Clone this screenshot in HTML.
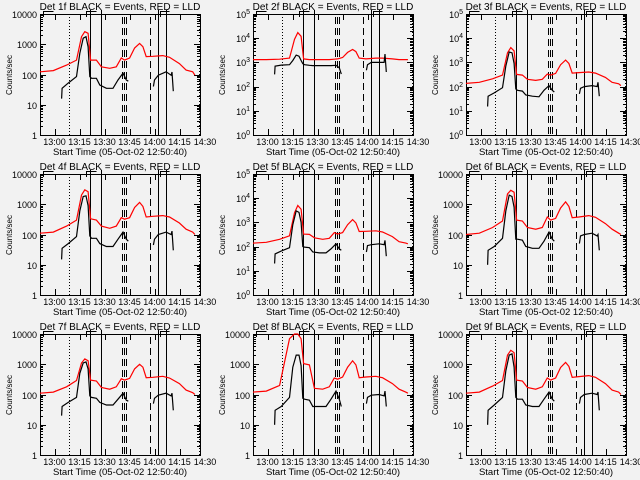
<!DOCTYPE html>
<html><head><meta charset="utf-8"><style>
html,body{margin:0;padding:0;background:#f2f2f2;}
svg{display:block;font-family:"Liberation Sans",sans-serif;}
</style></head><body>
<svg id="chart" width="640" height="480" viewBox="0 0 640 480" xmlns="http://www.w3.org/2000/svg">
<rect x="0" y="0" width="640" height="480" fill="#f2f2f2"/>
</svg>
<script>
// time (minutes since 12:50:40)
const redTimes = [0,8,16,22,25,27,29,30.5,34,37,42,46,49,51,54,57,60,62,64,68,74,78,84,88,92,93.3];
const blackTimes1 = [13,13.3,17,22,24,26,27.7,29,30,31,34,36,40,44,47,50,52,53.2];
const blackTimes2 = [68.3,69,71.3,76,79,79.5,80.3];
const detNames = ["1f","2f","3f","4f","5f","6f","7f","8f","9f"];
const decades = [4,5,5,4,5,4,4,4,4];
const powLabels = [false,true,true,false,true,false,false,false,false];
const red1 = [123,135,205,300,1780,2600,2300,300,300,180,160,180,350,300,350,750,1070,830,390,400,420,370,230,140,123,95];
const red2 = [1300,1300,1350,1500,9000,17000,12000,1400,1300,1300,1300,1300,1350,1400,1600,2600,3400,2800,1500,1400,1500,1500,1400,1300,1300,1300];
const red3 = [135,150,210,300,2500,4100,3000,320,300,200,180,200,330,300,350,800,1250,900,360,380,400,360,240,150,130,110];
const red4 = [110,120,190,300,2000,3000,2600,330,300,190,160,190,360,320,360,780,1150,850,380,400,420,380,240,150,120,100];
const red5 = [140,150,200,280,2500,5000,3500,330,320,230,200,220,380,330,380,800,1300,950,420,430,450,400,260,160,140,130];
const red6 = [100,110,170,280,2200,2900,2500,300,280,170,150,170,380,300,340,750,1200,850,360,380,420,370,230,150,110,100];
const red7 = [110,120,180,290,1100,1500,1300,300,280,170,150,180,330,300,340,700,1000,800,360,370,400,350,230,140,115,100];
const red8 = [120,130,200,7000,10000,10000,7000,1050,950,160,150,180,350,320,380,800,1300,950,360,380,400,360,230,150,120,110];
const red9 = [110,120,190,290,2000,2900,2400,300,280,170,150,180,350,300,350,780,1150,850,370,390,420,370,230,140,120,100];
const blackA1 = [16,35,52,85,500,1580,1780,830,85,75,75,45,35,35,66,110,66,60];
const blackB1 = [40,66,95,123,95,120,28];
const blackA2 = [320,700,770,800,1200,2000,1800,1200,880,800,760,740,740,740,740,760,600,330];
const blackB2 = [470,800,1000,1000,1000,2200,400];
const blackA3 = [15,40,55,90,700,2700,2500,900,80,70,65,45,40,38,70,110,70,60];
const blackB3 = [50,85,100,110,100,150,40];
const blackA4 = [15,35,50,85,600,1800,1900,900,90,75,75,50,40,40,70,120,70,60];
const blackB4 = [45,70,100,120,100,130,30];
const blackA5 = [20,50,65,90,800,3000,2600,1000,100,95,90,60,55,55,80,130,80,70];
const blackB5 = [60,110,120,130,120,180,40];
const blackA6 = [10,30,40,75,600,2000,1800,800,70,70,65,40,35,35,60,120,70,60];
const blackB6 = [50,90,100,110,90,100,30];
const blackA7 = [20,40,55,80,500,1100,1200,700,90,80,75,55,45,45,70,110,65,60];
const blackB7 = [50,75,95,110,90,110,30];
const blackA8 = [10,30,40,80,800,2000,2000,900,75,70,65,40,40,40,70,130,70,40];
const blackB8 = [50,80,95,100,90,130,40];
const blackA9 = [10,30,45,80,600,2000,2200,800,80,70,70,45,40,40,70,120,70,60];
const blackB9 = [50,80,100,110,100,120,30];
const solidLines = [30.1,36.7,71.1,75.9];
const dashedLines = [49.4,50.6,51.8,66.3];
const dottedLines = [17.5,95.8];
const xTickTimes = [9.33,24.33,39.33,54.33,69.33,84.33];
const xTickLabels = ["13:00","13:15","13:30","13:45","14:00","14:15"];
const reds = [red1,red2,red3,red4,red5,red6,red7,red8,red9];
const blacksA = [blackA1,blackA2,blackA3,blackA4,blackA5,blackA6,blackA7,blackA8,blackA9];
const blacksB = [blackB1,blackB2,blackB3,blackB4,blackB5,blackB6,blackB7,blackB8,blackB9];

const NS = "http://www.w3.org/2000/svg";
const svg = document.getElementById('chart');
function mk(tag, attrs, parent){
  const e = document.createElementNS(NS, tag);
  for (const k in attrs) e.setAttribute(k, attrs[k]);
  parent.appendChild(e);
  return e;
}
const PX0 = 40, PX1 = 200, PY0 = 14, PY1 = 135, TMAX = 96.4;
const snap = v => Math.round(v) + 0.5;

for (let p = 0; p < 9; p++) {
  const ox = [0,213,426][p%3], oy = [0,160,320][Math.floor(p/3)];
  const g = mk('g', {transform:`translate(${ox},${oy})`}, svg);
  
  
  const nd = decades[p];
  const xs = t => PX0 + t * (PX1 - PX0) / TMAX;
  const ys = v => PY1 - Math.log10(Math.max(v, 1)) * (PY1 - PY0) / nd;
  const ce = {'shape-rendering':'crispEdges'};

  const box = mk('rect', Object.assign({x:PX0+0.5, y:PY0+0.5, width:PX1-PX0, height:PY1-PY0, fill:'none', stroke:'#000', 'stroke-width':1}, ce), g);
  
  

  for (let d = 0; d <= nd; d++) {
    const y = snap(ys(Math.pow(10, d)));
    mk('line', Object.assign({x1:PX0, x2:PX0+6, y1:y, y2:y, stroke:'#000'}, ce), g);
    mk('line', Object.assign({x1:PX1, x2:PX1-6, y1:y, y2:y, stroke:'#000'}, ce), g);
    const lab = mk('text', {x:PX0-3, y:y+3.5, 'font-size':9, 'text-anchor':'end', fill:'#000'}, g);
    
    
    if (powLabels[p]) {
      lab.textContent = '10';
      const sup = mk('tspan', {dy:-4, 'font-size':7}, lab);
      sup.textContent = String(d);
    } else {
      lab.textContent = String(Math.pow(10, d));
    }
    if (d < nd) for (let m = 2; m <= 9; m++) {
      const ym = snap(ys(m * Math.pow(10, d)));
      mk('line', Object.assign({x1:PX0, x2:PX0+3, y1:ym, y2:ym, stroke:'#000'}, ce), g);
      mk('line', Object.assign({x1:PX1, x2:PX1-3, y1:ym, y2:ym, stroke:'#000'}, ce), g);
    }
  }
  xTickTimes.forEach((t, i) => {
    const x = snap(xs(t));
    mk('line', Object.assign({x1:x, x2:x, y1:PY1, y2:PY1-6, stroke:'#000'}, ce), g);
    mk('line', Object.assign({x1:x, x2:x, y1:PY0, y2:PY0+6, stroke:'#000'}, ce), g);
    const lab = mk('text', {x:x-1, y:145, 'font-size':9, 'text-anchor':'middle', fill:'#000'}, g);
    
    
    lab.textContent = xTickLabels[i];
  });
  const endLab = mk('text', {x:205, y:145, 'font-size':9, 'text-anchor':'middle', fill:'#000'}, g);
  
  
  endLab.textContent = '14:30';

  solidLines.forEach(t => { const x = snap(xs(t)); const l = mk('line', Object.assign({x1:x, x2:x, y1:10, y2:PY1, stroke:'#000', 'stroke-width':1}, ce), g);
      });
  dashedLines.forEach(t => { const x = snap(xs(t)); const l = mk('line', Object.assign({x1:x, x2:x, y1:17, y2:PY1, stroke:'#000', 'stroke-dasharray':'7,4'}, ce), g);
      });
  dottedLines.forEach(t => { const x = snap(xs(t)); const l = mk('line', Object.assign({x1:x, x2:x, y1:PY0, y2:PY1, stroke:'#000', 'stroke-dasharray':'1,2'}, ce), g);
      });
  [[2,8],[28,34],[72,78]].forEach(([a,b]) => {
    mk('polyline', Object.assign({points:`${snap(xs(a))},17 ${snap(xs(a))},11.5 ${snap(xs(b))},11.5`, fill:'none', stroke:'#000'}, ce), g);
  });

  const rp = redTimes.map((t,i) => `${xs(t).toFixed(1)},${ys(reds[p][i]).toFixed(1)}`).join(' ');
  const rl = mk('polyline', {points:rp, fill:'none', stroke:'#ff0000', 'stroke-width':1.2}, g);
  
  
  const bpA = blackTimes1.map((t,i) => `${xs(t).toFixed(1)},${ys(blacksA[p][i]).toFixed(1)}`).join(' ');
  const bl = mk('polyline', {points:bpA, fill:'none', stroke:'#000', 'stroke-width':1.2}, g);
  
  
  const bpB = blackTimes2.map((t,i) => `${xs(t).toFixed(1)},${ys(blacksB[p][i]).toFixed(1)}`).join(' ');
  const bl2 = mk('polyline', {points:bpB, fill:'none', stroke:'#000', 'stroke-width':1.2}, g);
  
  

  const title = mk('text', {x:120, y:10, 'font-size':10, 'text-anchor':'middle', fill:'#000'}, g);
  
  
  title.textContent = `Det ${detNames[p]} BLACK = Events, RED = LLD`;
  const xt = mk('text', {x:120, y:155, 'font-size':9.5, 'text-anchor':'middle', fill:'#000'}, g);
  
  
  xt.textContent = 'Start Time (05-Oct-02 12:50:40)';
  const yt = mk('text', {x:0, y:0, 'font-size':8, 'text-anchor':'middle', fill:'#000', transform:'translate(12,75) rotate(-90)'}, g);
  
  
  yt.textContent = 'Counts/sec';
}
</script>
</body></html>
